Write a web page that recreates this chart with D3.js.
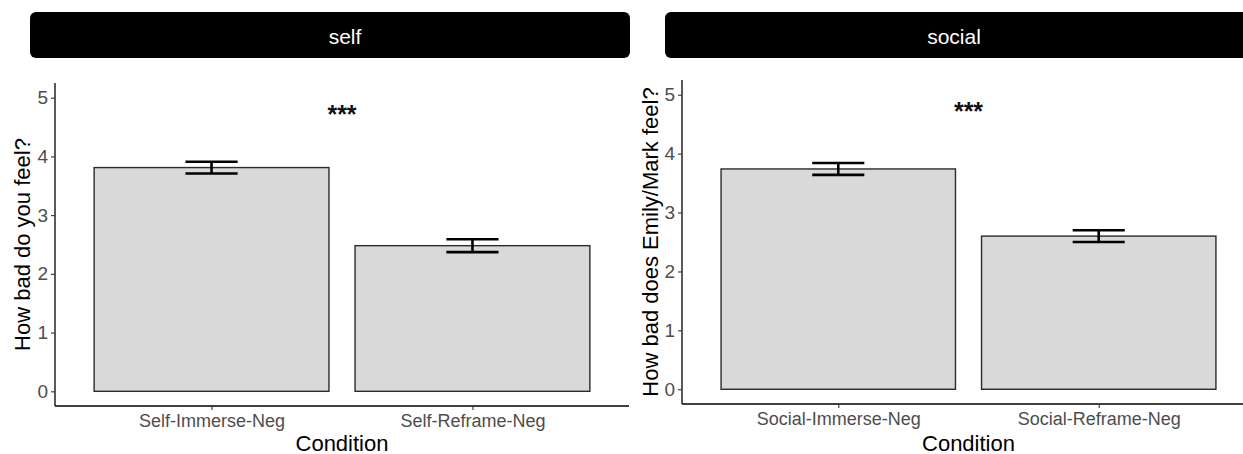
<!DOCTYPE html>
<html>
<head>
<meta charset="utf-8">
<script src="https://cdn.jsdelivr.net/npm/d3@7"></script>
<style>
  html, body { margin: 0; padding: 0; background: #fff; }
  svg { display: block; font-family: "Liberation Sans", Arial, sans-serif; }
</style>
</head>
<body>
<svg id="chart" width="1243" height="454"></svg>
<script>
// Facet names
const facets = ["self", "social"];

// Conditions, means and standard errors per facet
const selfConditions = ["Self-Immerse-Neg", "Self-Reframe-Neg"];
const selfMeans = [3.81, 2.48];
const selfErrors = [0.10, 0.11];

const socialConditions = ["Social-Immerse-Neg", "Social-Reframe-Neg"];
const socialMeans = [3.74, 2.60];
const socialErrors = [0.10, 0.10];

const yTicks = [0, 1, 2, 3, 4, 5];
const yTitles = ["How bad do you feel?", "How bad does Emily/Mark feel?"];
const xTitle = "Condition";
const sigLabels = ["***", "***"];
const sigLevel = 4.72;

const panelData = [
  { name: facets[0], cats: selfConditions, means: selfMeans, errs: selfErrors, yTitle: yTitles[0], sig: sigLabels[0] },
  { name: facets[1], cats: socialConditions, means: socialMeans, errs: socialErrors, yTitle: yTitles[1], sig: sigLabels[1] }
];

// Panel geometry
const layout = [
  { x0: 55, x1: 629, yTop: 83, yBot: 406, sx0: 30, sx1: 630, labelX: 345, titleX: 22 },
  { x0: 682, x1: 1255, yTop: 80, yBot: 404, sx0: 665, sx1: 1262, labelX: 954, titleX: 650 }
];

const svg = d3.select("#chart");

panelData.forEach((p, i) => {
  const L = layout[i];
  const g = svg.append("g");

  // strip header
  g.append("rect")
    .attr("x", L.sx0).attr("y", 12)
    .attr("width", L.sx1 - L.sx0).attr("height", 46)
    .attr("rx", 6).attr("ry", 6)
    .attr("fill", "#000");
  g.append("text")
    .attr("x", L.labelX)
    .attr("y", 36)
    .attr("text-anchor", "middle")
    .attr("dominant-baseline", "central")
    .attr("fill", "#fff")
    .attr("font-size", 21)
    .text(p.name);

  // scales: discrete x with 0.6 unit padding each side, y with 5% expansion
  const x = d3.scaleLinear().domain([0.4, 2.6]).range([L.x0, L.x1]);
  const y = d3.scaleLinear().domain([-0.25, 5.25]).range([L.yBot, L.yTop]);
  const pos = d => x(p.cats.indexOf(d) + 1);

  const rows = p.cats.map((c, k) => ({ cat: c, mean: p.means[k], err: p.errs[k] }));

  // bars
  g.selectAll("rect.bar").data(rows).join("rect")
    .attr("class", "bar")
    .attr("x", d => pos(d.cat) - (x(1.45) - x(1)))
    .attr("width", x(1.9) - x(1))
    .attr("y", d => y(d.mean))
    .attr("height", d => y(0) - y(d.mean))
    .attr("fill", "#d9d9d9")
    .attr("stroke", "#2b2b2b")
    .attr("stroke-width", 1.4);

  // error bars
  const hw = x(1.1) - x(1);
  const eb = g.selectAll("g.err").data(rows).join("g").attr("class", "err")
    .attr("stroke", "#000").attr("stroke-width", 2.6);
  eb.append("line")
    .attr("x1", d => pos(d.cat)).attr("x2", d => pos(d.cat))
    .attr("y1", d => y(d.mean + d.err)).attr("y2", d => y(d.mean - d.err));
  eb.append("line")
    .attr("x1", d => pos(d.cat) - hw).attr("x2", d => pos(d.cat) + hw)
    .attr("y1", d => y(d.mean + d.err)).attr("y2", d => y(d.mean + d.err));
  eb.append("line")
    .attr("x1", d => pos(d.cat) - hw).attr("x2", d => pos(d.cat) + hw)
    .attr("y1", d => y(d.mean - d.err)).attr("y2", d => y(d.mean - d.err));

  // significance stars
  g.append("text")
    .attr("x", x(1.5)).attr("y", y(sigLevel))
    .attr("text-anchor", "middle")
    .attr("dominant-baseline", "central")
    .attr("font-size", 25).attr("font-weight", "bold")
    .attr("fill", "#111")
    .text(p.sig);

  // y axis
  const yAxis = d3.axisLeft(y).tickValues(yTicks).tickSize(4).tickPadding(3).tickFormat(d3.format("d"));
  const ya = g.append("g").attr("transform", `translate(${L.x0},0)`).call(yAxis);
  ya.select(".domain").attr("stroke", "#000").attr("stroke-width", 1.3).attr("d", `M0,${L.yTop}V${L.yBot}`);
  ya.selectAll(".tick line").attr("stroke", "#333").attr("stroke-width", 1.1);
  ya.selectAll(".tick text").attr("fill", "#4d4d4d").attr("font-size", 19).attr("font-family", null);

  // x axis
  const xAxis = d3.axisBottom(x).tickValues([1, 2]).tickSize(4).tickPadding(4)
    .tickFormat(v => p.cats[v - 1]);
  const xa = g.append("g").attr("transform", `translate(0,${L.yBot})`).call(xAxis);
  xa.select(".domain").attr("stroke", "#000").attr("stroke-width", 1.3).attr("d", `M${L.x0},0H${L.x1}`);
  xa.selectAll(".tick line").attr("stroke", "#333").attr("stroke-width", 1.1);
  xa.selectAll(".tick text").attr("fill", "#4d4d4d").attr("font-size", 18).attr("font-family", null);

  // axis titles
  g.append("text")
    .attr("x", (L.x0 + L.x1) / 2).attr("y", 443)
    .attr("text-anchor", "middle").attr("dominant-baseline", "central")
    .attr("font-size", 22).attr("fill", "#000")
    .text(xTitle);
  g.append("text")
    .attr("transform", `translate(${L.titleX},${(L.yTop + L.yBot) / 2}) rotate(-90)`)
    .attr("text-anchor", "middle").attr("dominant-baseline", "central")
    .attr("font-size", 22).attr("fill", "#000")
    .text(p.yTitle);
});
</script>
</body>
</html>
